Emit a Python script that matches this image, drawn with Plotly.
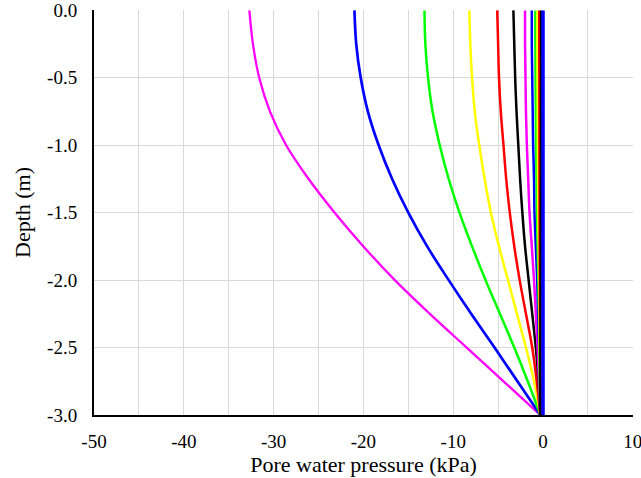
import plotly.graph_objects as go

depth = [0.0, -0.25, -0.5, -0.75, -1.0, -1.25, -1.5, -1.75, -2.0, -2.25, -2.5, -2.75, -3.0]

magenta1 = [-32.7, -32.3, -31.6, -30.4, -28.6, -26.1, -23.2, -20.0, -16.5, -12.6, -8.5, -4.4, -0.3]
blue1 = [-21.0, -20.8, -20.3, -19.5, -18.3, -16.8, -15.0, -12.9, -10.5, -8.0, -5.4, -2.85, -0.3]
green1 = [-13.2, -13.1, -12.8, -12.3, -11.5, -10.5, -9.3, -7.9, -6.4, -4.8, -3.2, -1.7, -0.3]
yellow1 = [-8.2, -8.1, -7.9, -7.6, -7.1, -6.5, -5.8, -4.9, -3.9, -2.9, -1.9, -1.0, -0.3]
red1 = [-5.1, -5.0, -4.9, -4.7, -4.4, -4.1, -3.7, -3.2, -2.6, -1.9, -1.2, -0.7, -0.3]
black1 = [-3.3, -3.2, -3.1, -2.95, -2.75, -2.55, -2.3, -2.0, -1.6, -1.2, -0.8, -0.5, -0.3]
magenta2 = [-2.0, -2.0, -1.95, -1.9, -1.8, -1.65, -1.5, -1.25, -1.0, -0.8, -0.6, -0.45, -0.3]
blue2 = [-1.25, -1.25, -1.2, -1.15, -1.1, -1.0, -0.95, -0.8, -0.65, -0.55, -0.45, -0.35, -0.3]
green2 = [-0.85, -0.85, -0.83, -0.8, -0.77, -0.72, -0.67, -0.6, -0.52, -0.45, -0.4, -0.35, -0.3]
yellow2 = [-0.62, -0.62, -0.6, -0.59, -0.57, -0.55, -0.52, -0.48, -0.44, -0.4, -0.36, -0.33, -0.3]
red2 = [-0.42, -0.42, -0.41, -0.4, -0.4, -0.39, -0.38, -0.37, -0.35, -0.34, -0.32, -0.31, -0.3]
black2 = [-0.22, -0.22, -0.22, -0.23, -0.23, -0.24, -0.25, -0.26, -0.27, -0.28, -0.29, -0.3, -0.3]
blue_final = [0.0] * 13

series = [
    (magenta1, "#ff00ff", 2.3), (blue1, "#0000ff", 2.7), (green1, "#00ff00", 2.5),
    (yellow1, "#ffff00", 2.5), (red1, "#ff0000", 2.5), (black1, "#000000", 2.5),
    (magenta2, "#ff00ff", 2.5), (blue2, "#0000ff", 2.5), (green2, "#00ff00", 2.5),
    (yellow2, "#ffff00", 2.5), (red2, "#ff0000", 2.5), (black2, "#000000", 2.5),
    (blue_final, "#0000ff", 3.5),
]

x_ticks = [-50, -40, -30, -20, -10, 0, 10]
x_ticktext = ["-50", "-40", "-30", "-20", "-10", "0", "10"]
y_ticks = [0.0, -0.5, -1.0, -1.5, -2.0, -2.5, -3.0]
y_ticktext = ["0.0", "-0.5", "-1.0", "-1.5", "-2.0", "-2.5", "-3.0"]

fig = go.Figure()
for vals, col, w in series:
    fig.add_trace(go.Scatter(x=vals, y=depth, mode="lines",
                             line=dict(color=col, width=w, shape="spline", smoothing=1),
                             showlegend=False, hoverinfo="skip", cliponaxis=False))

font_family = "Times New Roman"
fig.update_layout(
    width=641, height=478,
    margin=dict(l=94, r=8, t=10, b=63),
    paper_bgcolor="white", plot_bgcolor="white",
    font=dict(family=font_family, color="black"),
    xaxis=dict(range=[-50, 10.02], tickvals=x_ticks, ticktext=x_ticktext, automargin=False,
               tickfont=dict(size=19, family=font_family), showgrid=True, gridcolor="#d9d9d9", gridwidth=1,
               minor=dict(tickvals=[-45, -35, -25, -15, -5, 5], showgrid=True, gridcolor="#d9d9d9", gridwidth=1),
               zeroline=False, showline=True, linecolor="black", linewidth=2,
               title=dict(text="Pore water pressure (kPa)", font=dict(size=22, family=font_family), standoff=4),
               ticks="", ticklabelstandoff=8, ticklabeloverflow="allow"),
    yaxis=dict(range=[-3, 0.003], tickvals=y_ticks, ticktext=y_ticktext, automargin=False,
               tickfont=dict(size=19, family=font_family), showgrid=True, gridcolor="#d9d9d9", gridwidth=1,
               zeroline=False, showline=True, linecolor="black", linewidth=2,
               title=dict(text="Depth (m)", font=dict(size=22, family=font_family), standoff=10),
               ticks="", ticklabelstandoff=11, ticklabeloverflow="allow"),
)

fig.write_html("out.html")
